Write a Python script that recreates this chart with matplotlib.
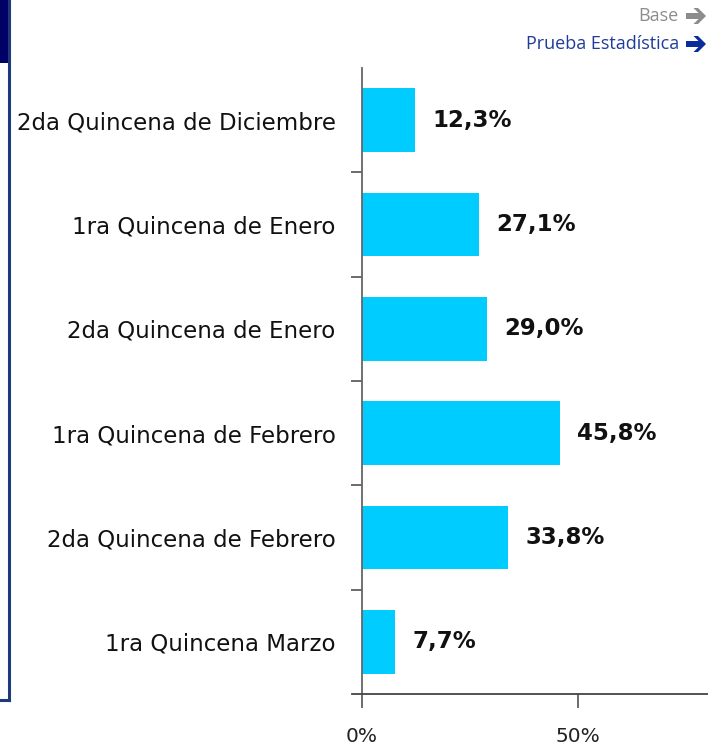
import matplotlib
matplotlib.use("Agg")
import matplotlib.pyplot as plt
from matplotlib.patches import Rectangle, Polygon
from matplotlib.lines import Line2D

categories = ["2da Quincena de Diciembre", "1ra Quincena de Enero", "2da Quincena de Enero",
              "1ra Quincena de Febrero", "2da Quincena de Febrero", "1ra Quincena Marzo"]
values = [12.3, 27.1, 29.0, 45.8, 33.8, 7.7]
value_labels = ["12,3%", "27,1%", "29,0%", "45,8%", "33,8%", "7,7%"]
xticks = [0, 50]
xtick_labels = ["0%", "50%"]

W, H = 708, 748
fig = plt.figure(figsize=(W / 100, H / 100), dpi=100)
fig.patch.set_facecolor("white")

ax = fig.add_axes([362 / W, 1 - 694 / H, (708 - 362) / W, (694 - 68) / H])
n = len(categories)
ypos = list(range(n))
ax.barh(ypos, values, height=0.61, color="#00CCFF", edgecolor="none", zorder=2)
ax.set_ylim(n - 0.5, -0.5)
ax.set_xlim(0, 80)

for y, v, lab in zip(ypos, values, value_labels):
    ax.annotate(lab, xy=(v, y), xytext=(17, 0), textcoords="offset pixels",
                ha="left", va="center", fontsize=16.5, fontweight="bold",
                color="#111111", family="DejaVu Sans")

# spines
for s in ["top", "right"]:
    ax.spines[s].set_visible(False)
ax.spines["left"].set_color("#666666")
ax.spines["left"].set_linewidth(1.3)
ax.spines["bottom"].set_color("#444444")
ax.spines["bottom"].set_linewidth(1.3)
# extend bottom axis line slightly to the left
ax.add_line(Line2D([-10 / 346, 0], [0, 0], transform=ax.transAxes, color="#444444",
                   lw=1.3, clip_on=False))

# y ticks: boundary tick marks, labels as minor ticks
ax.set_yticks([i + 0.5 for i in range(n - 1)])
ax.set_yticklabels([])
ax.tick_params(axis="y", which="major", direction="out", length=8, width=1.1, color="#444444")
ax.set_yticks(ypos, minor=True)
ax.set_yticklabels(categories, minor=True, fontsize=16.5, color="#111111", family="DejaVu Sans")
ax.tick_params(axis="y", which="minor", length=0, pad=19)

ax.set_xticks(xticks)
ax.set_xticklabels(xtick_labels, fontsize=14.5, color="#222222", family="DejaVu Sans")
ax.tick_params(axis="x", direction="out", length=10, width=1.1, color="#444444", pad=14)

# top-right legend-like text
fig.text(679 / W, 1 - 16 / H, "Base", ha="right", va="center", fontsize=13,
         color="#8C8C8C", family=["Open Sans", "DejaVu Sans"])
fig.text(679 / W, 1 - 44 / H, "Prueba Estadística", ha="right", va="center", fontsize=13,
         color="#1F3C99", family=["Open Sans", "DejaVu Sans"])

def heavy_arrow(x0, yc, color):
    shape = [(0, 3), (12.5, 3), (7.5, 8), (12, 8), (20, 0), (12, -8), (7.5, -8),
             (12.5, -3), (0, -3)]
    pts = [((x0 + dx) / W, 1 - (yc - dy) / H) for dx, dy in shape]
    fig.patches.append(Polygon(pts, closed=True, transform=fig.transFigure,
                               facecolor=color, edgecolor="none"))

heavy_arrow(686, 16, "#8C8C8C")
heavy_arrow(686, 44, "#0A2D9E")

# left decorations
fig.patches.append(Rectangle((0, 1 - 63 / H), 8 / W, 63 / H, transform=fig.transFigure,
                             facecolor="#000066", edgecolor="none"))
fig.lines.append(Line2D([8.5 / W, 8.5 / W], [1, 1 - 700 / H], transform=fig.transFigure,
                        color="#1F3A7A", lw=2.2))
fig.lines.append(Line2D([0, 8.5 / W], [1 - 700 / H, 1 - 700 / H], transform=fig.transFigure,
                        color="#1F3A7A", lw=2.2))

fig.savefig("out.png", dpi=100, facecolor="white")
